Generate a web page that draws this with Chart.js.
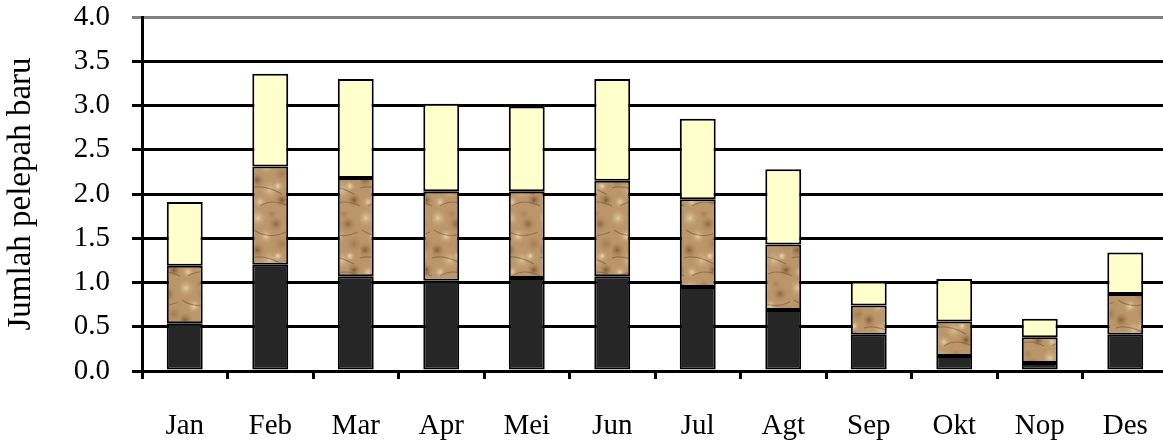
<!DOCTYPE html>
<html>
<head>
<meta charset="utf-8">
<script src="https://cdn.jsdelivr.net/npm/chart.js@4.4.1/dist/chart.umd.min.js"></script>
<style>
html,body{margin:0;padding:0;background:#fff;overflow:hidden;}
#wrap{width:1170px;height:444px;position:relative;}
</style>
</head>
<body>
<div id="wrap"><canvas id="c" width="1170" height="444"></canvas></div>
<script>
const categories = ['Jan','Feb','Mar','Apr','Mei','Jun','Jul','Agt','Sep','Okt','Nop','Des'];
const seriesBottom = [0.54,1.20,1.07,1.02,1.05,1.07,0.95,0.69,0.41,0.17,0.09,0.41];
const seriesMiddle = [0.65,1.11,1.11,1.01,0.98,1.08,0.99,0.74,0.33,0.39,0.29,0.46];
const seriesTop    = [0.72,1.05,1.12,0.99,0.96,1.15,0.91,0.85,0.27,0.48,0.21,0.47];
const yTicks = [0,0.5,1.0,1.5,2.0,2.5,3.0,3.5,4.0];

function makeTexture(){
  const pc = document.createElement('canvas');
  pc.width = 36; pc.height = 70;
  const g = pc.getContext('2d');
  g.fillStyle = '#bb966a';
  g.fillRect(0,0,36,70);
  const blobs = [
    [6,8,10,'#e4cba3'],[24,14,9,'#8f673e'],[14,26,8,'#ead5b2'],[30,34,10,'#a27a4e'],
    [5,40,9,'#84603a'],[18,50,11,'#dcc19a'],[30,60,8,'#7d5733'],[8,62,7,'#e6cfaa'],
    [20,4,6,'#a67e53'],[26,46,6,'#f0dcbb']
  ];
  blobs.forEach(b=>{
    const rg = g.createRadialGradient(b[0],b[1],0,b[0],b[1],b[2]);
    rg.addColorStop(0,b[3]);
    rg.addColorStop(1,'rgba(187,150,106,0)');
    g.fillStyle = rg;
    g.beginPath(); g.arc(b[0],b[1],b[2],0,Math.PI*2); g.fill();
  });
  g.strokeStyle='rgba(100,70,40,0.45)'; g.lineWidth=1.2;
  [[2,20,16,30,34,22],[0,48,12,44,30,54],[8,66,20,58,36,66]].forEach(p=>{
    g.beginPath(); g.moveTo(p[0],p[1]); g.quadraticCurveTo(p[2],p[3],p[4],p[5]); g.stroke();
  });
  return g.createPattern(pc,'repeat');
}

const ctx = document.getElementById('c').getContext('2d');
const texture = makeTexture();
const fam = '"Liberation Serif","Times New Roman",serif';
const fs = 29;

new Chart(ctx,{
  type:'bar',
  data:{
    labels:categories,
    datasets:[
      {label:'a',data:seriesBottom,backgroundColor:'#262626',borderColor:'#000',borderWidth:2,borderSkipped:false,categoryPercentage:1,barPercentage:0.42},
      {label:'b',data:seriesMiddle,backgroundColor:texture,borderColor:'#000',borderWidth:2,borderSkipped:false,categoryPercentage:1,barPercentage:0.42},
      {label:'c',data:seriesTop,backgroundColor:'#ffffcc',borderColor:'#000',borderWidth:2,borderSkipped:false,categoryPercentage:1,barPercentage:0.42}
    ]
  },
  options:{
    responsive:false,
    animation:false,
    events:[],
    layout:{padding:{top:17,right:2,left:0,bottom:0}},
    plugins:{legend:{display:false},tooltip:{enabled:false}},
    scales:{
      x:{
        stacked:true,
        offset:true,
        grid:{display:true,drawOnChartArea:false,drawTicks:true,tickLength:8,color:'#000',lineWidth:3,offset:true},
        border:{display:true,color:'#000',width:3},
        ticks:{color:'#000',font:{family:fam,size:fs},padding:30,maxRotation:0,autoSkip:false},
        afterFit:s=>{s.height=73; s.paddingLeft=0; s.paddingRight=0;}
      },
      y:{
        stacked:true,
        min:0,max:4,
        afterBuildTicks:s=>{s.ticks = yTicks.map(v=>({value:v}));},
        grid:{color:c=>(c.tick && c.tick.value===4)?'#808080':'#000',lineWidth:3,drawTicks:true,tickLength:10},
        border:{display:true,color:'#000',width:3},
        ticks:{color:'#000',font:{family:fam,size:fs},padding:22,callback:v=>Number(v).toFixed(1)},
        title:{display:true,text:'Jumlah pelepah baru',color:'#000',font:{family:fam,size:33},padding:{top:2,bottom:4}},
        afterFit:s=>{s.width=142; s.paddingTop=0; s.paddingBottom=0;}
      }
    }
  }
});
</script>
</body>
</html>
